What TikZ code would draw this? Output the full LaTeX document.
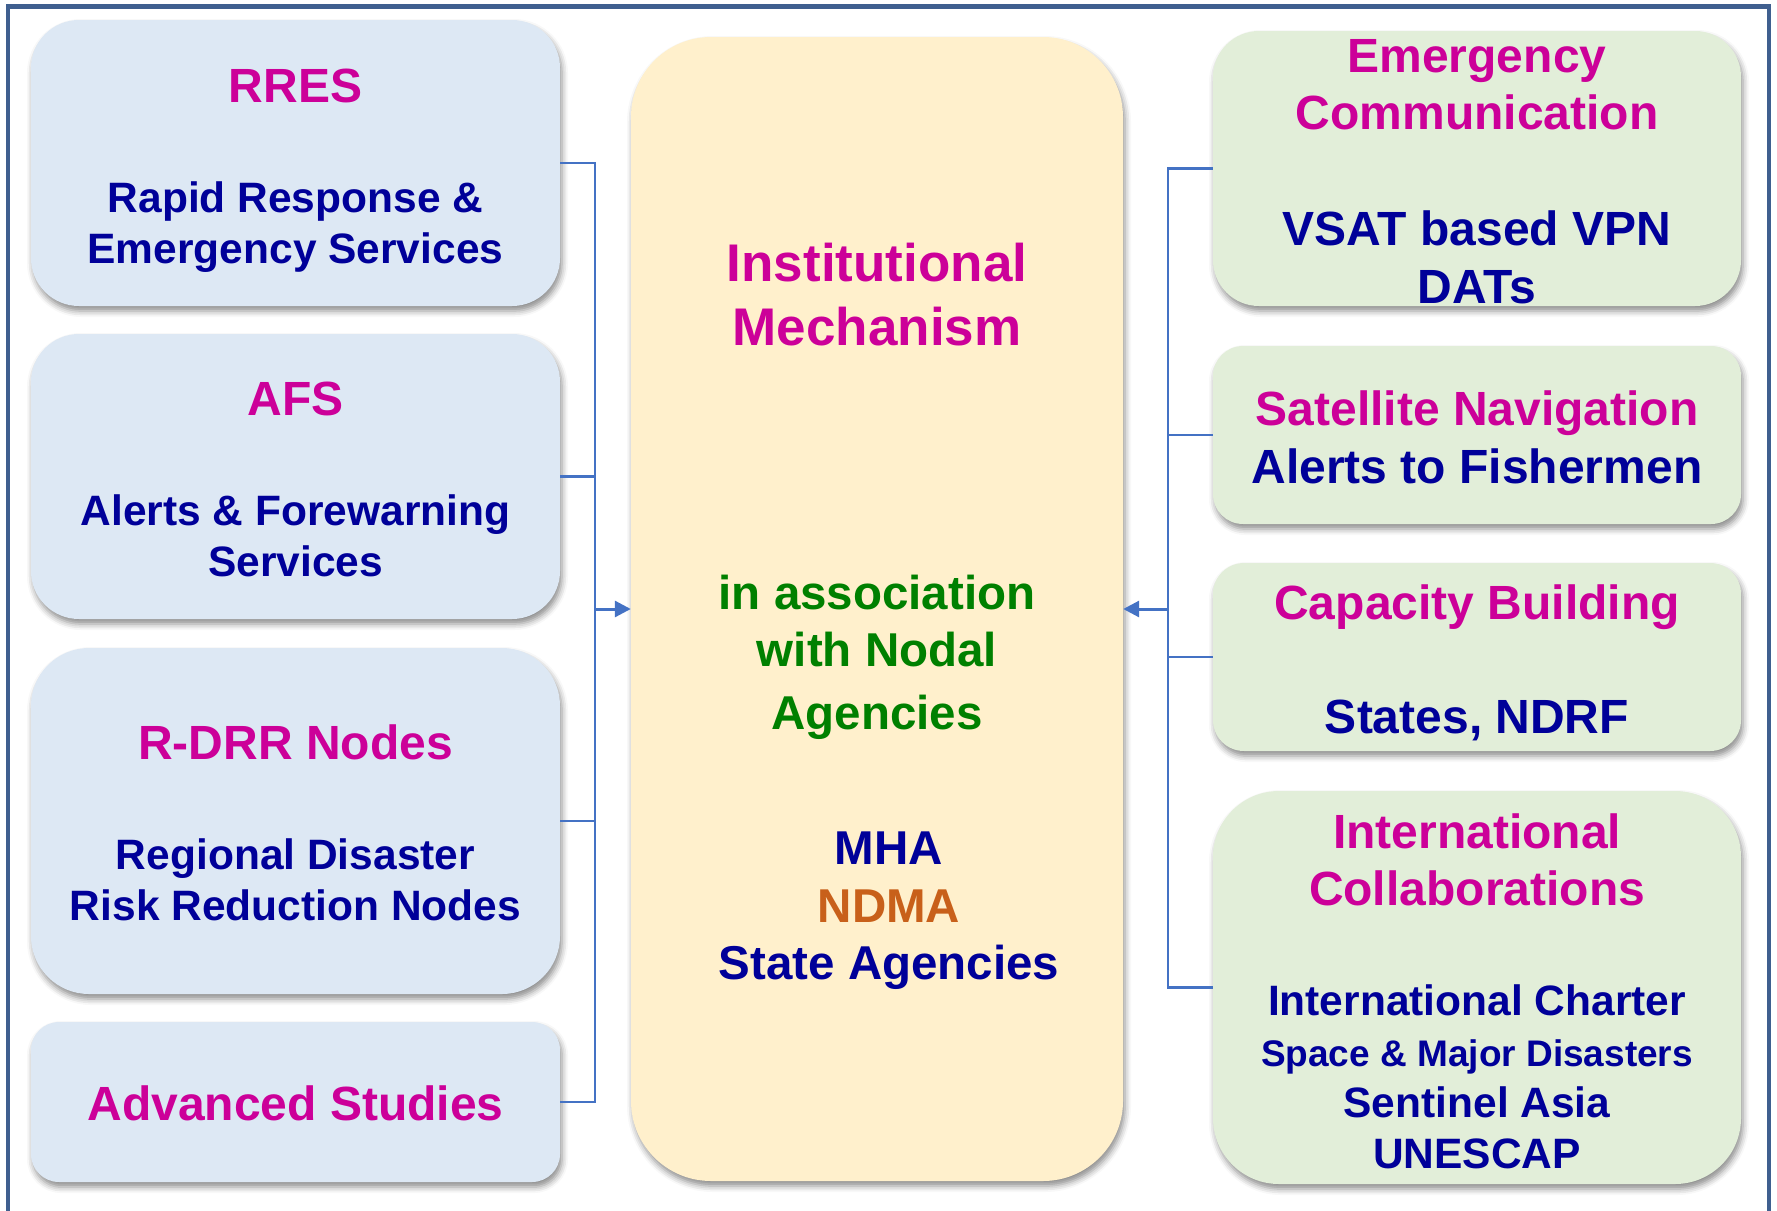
\documentclass[tikz,border=0pt]{standalone}
\usepackage{fontspec}
\setmainfont{Liberation Sans}
\usetikzlibrary{arrows.meta,shadows.blur}

\definecolor{framecol}{HTML}{3F5F8F}
\definecolor{linkcol}{HTML}{4472C4}
\definecolor{leftfill}{HTML}{DDE8F4}
\definecolor{rightfill}{HTML}{E2EED9}
\definecolor{midfill}{HTML}{FFF0CC}
\definecolor{magentatxt}{HTML}{CC0099}
\definecolor{navytxt}{HTML}{000099}
\definecolor{greentxt}{HTML}{008000}
\definecolor{orangetxt}{HTML}{C8601A}

\begin{document}
\begin{tikzpicture}[x=1pt,y=-1pt,
  panel/.style={draw=none, inner sep=0pt,
    blur shadow={shadow xshift=2pt, shadow yshift=-5pt, shadow blur radius=6pt, shadow opacity=45}},
  leftpanel/.style={panel, fill=leftfill, minimum width=529pt},
  rightpanel/.style={panel, fill=rightfill, minimum width=528pt},
  midpanel/.style={panel, fill=midfill},
  txt/.style={anchor=base, inner sep=0pt, font=\bfseries\fontsize{#1}{#1}\selectfont},
  heading/.style={txt=48, text=magentatxt},
  body/.style={txt=42.5, text=navytxt},
  bodybig/.style={txt=48, text=navytxt},
  bodysmall/.style={txt=37, text=navytxt},
  link/.style={draw=linkcol, line width=2.3pt},
  feed/.style={draw=linkcol, line width=3pt, -{Triangle[length=16pt,width=16pt]}},
]
\useasboundingbox (0,0) rectangle (1777,1210);

% outer frame (open at the bottom edge of the page)
\draw[framecol, line width=4.5pt] (8,1215) -- (8,6.5) -- (1769,6.5) -- (1769,1215);

% ---------- left column ----------
\node[leftpanel, minimum height=286pt, rounded corners=48pt] (rres) at (295.5,163) {};
\node[leftpanel, minimum height=285pt, rounded corners=48pt] (afs)  at (295.5,476.5) {};
\node[leftpanel, minimum height=346pt, rounded corners=58pt] (rdrr) at (295.5,821) {};
\node[leftpanel, minimum height=160pt, rounded corners=28pt] (adv)  at (295.5,1102) {};

\node[heading] (rresT)  at (295.5,102) {RRES};
\node[body]    (rresA)  at (295.5,212) {Rapid Response \&};
\node[body]    (rresB)  at (295.5,263) {Emergency Services};

\node[heading] (afsT)   at (295.5,415) {AFS};
\node[body]    (afsA)   at (295.5,525) {Alerts \& Forewarning};
\node[body]    (afsB)   at (295.5,576) {Services};

\node[heading] (rdrrT)  at (295.5,759) {R-DRR Nodes};
\node[body]    (rdrrA)  at (295.5,869) {Regional Disaster};
\node[body]    (rdrrB)  at (295.5,920) {Risk Reduction Nodes};

\node[heading] (advT)   at (295.5,1120) {Advanced Studies};

% ---------- centre column ----------
\node[midpanel, minimum width=492pt, minimum height=1144pt, rounded corners=80pt] (core) at (877,609) {};

\node[txt=53, text=magentatxt] (coreA) at (877,281) {Institutional};
\node[txt=53, text=magentatxt] (coreB) at (877,345) {Mechanism};
\node[txt=47.5, text=greentxt] (assocA) at (877,609) {in association};
\node[txt=47.5, text=greentxt] (assocB) at (877,666) {with Nodal};
\node[txt=47.5, text=greentxt] (assocC) at (877,729) {Agencies};
\node[txt=47.5, text=navytxt]    (mha)    at (889,864) {MHA};
\node[txt=47.5, text=orangetxt]  (ndma)   at (889,922) {NDMA};
\node[txt=47.5, text=navytxt]    (state)  at (889,979) {State Agencies};

% ---------- right column ----------
\node[rightpanel, minimum height=275pt, rounded corners=46pt] (ecom) at (1477,168.5) {};
\node[rightpanel, minimum height=178pt, rounded corners=30pt] (snav) at (1477,435) {};
\node[rightpanel, minimum height=188pt, rounded corners=31pt] (capb) at (1477,657) {};
\node[rightpanel, minimum height=393pt, rounded corners=66pt] (intl) at (1477,987.5) {};

\node[heading]  (ecomT1) at (1477,72.5) {Emergency};
\node[heading]  (ecomT2) at (1477,129) {Communication};
\node[bodybig]  (ecomA)  at (1477,245) {VSAT based VPN};
\node[bodybig]  (ecomB)  at (1477,303) {DATs};

\node[heading]  (snavT)  at (1477,425) {Satellite Navigation};
\node[bodybig]  (snavA)  at (1477,483) {Alerts to Fishermen};

\node[heading]  (capbT)  at (1477,619) {Capacity Building};
\node[bodybig]  (capbA)  at (1477,733) {States, NDRF};

\node[heading]  (intlT1) at (1477,848) {International};
\node[heading]  (intlT2) at (1477,905.5) {Collaborations};
\node[body]      (intlA) at (1477,1015) {International Charter};
\node[bodysmall] (intlB) at (1477,1066) {Space \& Major Disasters};
\node[body]      (intlC) at (1477,1117) {Sentinel Asia};
\node[body]      (intlD) at (1477,1168) {UNESCAP};

% ---------- connectors ----------
\coordinate (lbus) at (595,0);
\coordinate (rbus) at (1168,0);

\draw[link] (rres.east) -- (rres.east -| lbus) -- (adv.east -| lbus) -- (adv.east);
\draw[link] (afs.east)  -- (afs.east -| lbus);
\draw[link] (rdrr.east) -- (rdrr.east -| lbus);
\draw[feed] (core.west -| lbus) -- (core.west);

\draw[link] (ecom.west) -- (ecom.west -| rbus) -- (intl.west -| rbus) -- (intl.west);
\draw[link] (snav.west) -- (snav.west -| rbus);
\draw[link] (capb.west) -- (capb.west -| rbus);
\draw[feed] (core.east -| rbus) -- (core.east);
\end{tikzpicture}
\end{document}
